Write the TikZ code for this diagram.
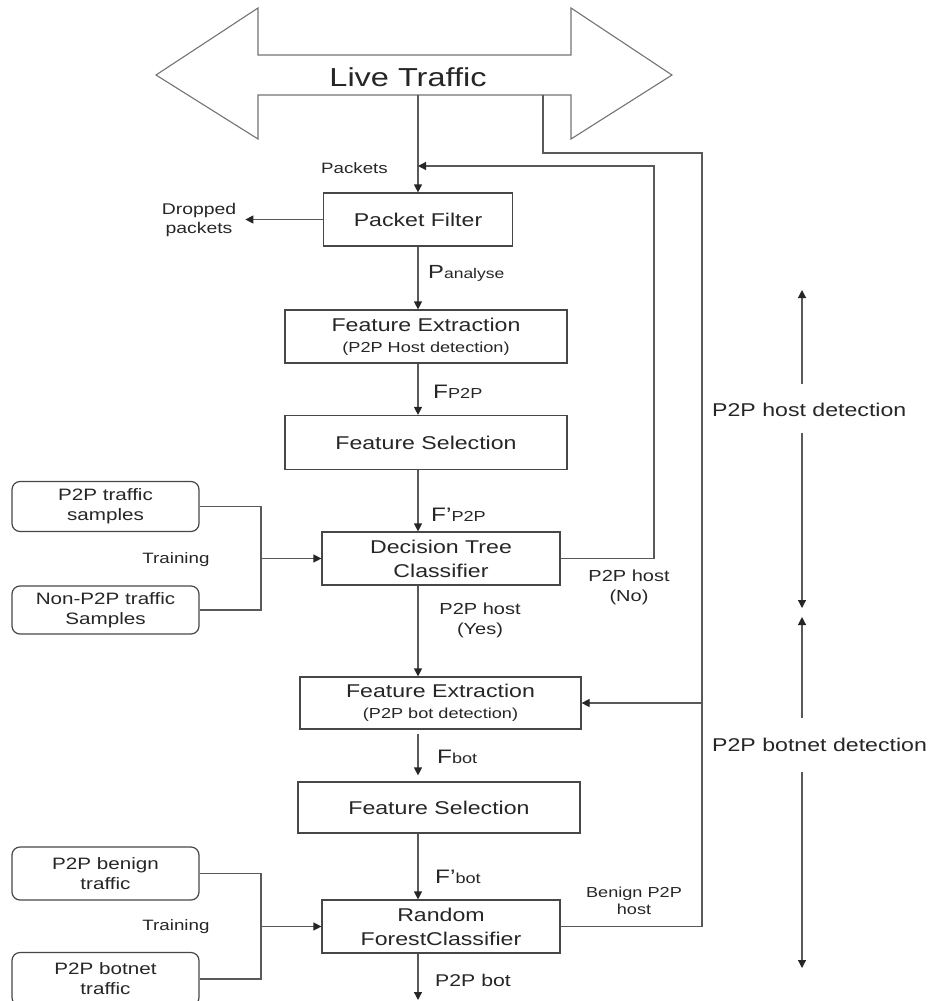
\documentclass[tikz,border=0pt]{standalone}
\usepackage{fontspec}
\setmainfont[FakeStretch=1.25]{Liberation Sans}
\usetikzlibrary{arrows.meta,calc}
\newcommand{\fsz}[2]{\fontsize{#1}{#2}\selectfont}
\begin{document}
\begin{tikzpicture}[x=1pt,y=-1pt,
  line/.style={draw=black!65, line width=1.2pt},
  arr/.style={line, -{Triangle[length=8pt,width=8pt,color=black!85]}},
  outline/.style={draw=black!55, line width=1.1pt},
  box/.style={draw=black!72, line width=1.2pt, fill=white, align=center,
    text=black!85, font=\fsz{18.5}{24}, inner sep=0pt},
  sample/.style={box, rounded corners=8pt, font=\fsz{16.5}{20},
    minimum width=187pt},
  lbl/.style={text=black!85, font=\fsz{15}{18}, inner sep=0pt, align=center},
  big/.style={text=black!85, inner sep=0pt}
]
\useasboundingbox (0,0) rectangle (932,1001);
\clip (0,0) rectangle (932,1001);

% Live traffic double arrow
\draw[outline] (156,75) -- (258,8) -- (258,55) -- (571,55) -- (571,8) -- (672,75)
  -- (571,139) -- (571,95) -- (258,95) -- (258,139) -- cycle;
\node[big, font=\fsz{26}{30}] (lt) at (408,77) {Live Traffic};
\coordinate (tapA) at (418,95);
\coordinate (tapB) at (543,95);

% boxes
\node[box, minimum width=189pt, minimum height=53pt] (pf) at (418,219.5) {Packet Filter};
\node[box, minimum width=282pt, minimum height=53pt] (fe1) at (426,336.5)
  {Feature Extraction\\[-3pt]{\fsz{14.5}{18}(P2P Host detection)}};
\node[box, minimum width=282pt, minimum height=54pt] (fs1) at (426,442.5) {Feature Selection};
\node[box, minimum width=238pt, minimum height=53pt] (dt) at (441,558.5) {Decision Tree\\Classifier};
\node[box, minimum width=281pt, minimum height=52pt] (fe2) at (440.5,703)
  {Feature Extraction\\[-3pt]{\fsz{14.5}{18}(P2P bot detection)}};
\node[box, minimum width=282pt, minimum height=51pt] (fs2) at (439,807.5) {Feature Selection};
\node[box, minimum width=238pt, minimum height=53pt] (rf) at (441,926.5) {Random\\ForestClassifier};

\node[sample, minimum height=50pt] (s1) at (105.5,506.5) {P2P traffic\\samples};
\node[sample, minimum height=48pt] (s2) at (105.5,610) {Non-P2P traffic\\Samples};
\node[sample, minimum height=53pt] (s3) at (105.5,873.5) {P2P benign\\traffic};
\node[sample, minimum height=53pt] (s4) at (105.5,979) {P2P botnet\\traffic};

% labels
\node[lbl, anchor=east] (lpk) at (388,168) {Packets};
\node[lbl, font=\fsz{15.5}{19}] (dp) at (199,220) {Dropped\\packets};
\node[big, anchor=west] (lpa) at (428,273) {\fsz{19}{19}P\fsz{14}{14}analyse};
\node[big, anchor=west] (lfp) at (433,392) {\fsz{19.5}{19}F\fsz{14.5}{14}P2P};
\node[big, anchor=west] (lfpp) at (431,515) {\fsz{19.5}{19}F'\fsz{14.5}{14}P2P};
\node[big, anchor=west] (lfb) at (437,757) {\fsz{19.5}{19}F\fsz{14.5}{14}bot};
\node[big, anchor=west] (lfbb) at (435,877) {\fsz{19.5}{19}F'\fsz{14.5}{14}bot};
\node[lbl, font=\fsz{16}{20}] (lyes) at (480,620) {P2P host\\(Yes)};
\node[lbl, font=\fsz{16}{20}] (lno) at (629,587) {P2P host\\(No)};
\node[lbl, font=\fsz{14.5}{17}] (lben) at (634,901) {Benign P2P\\host};
\node[big, anchor=west, font=\fsz{17}{20}] (lbot) at (435,980) {P2P bot};
\node[lbl] (tr1) at (176,560) {Training};
\node[lbl] (tr2) at (176,927) {Training};
\node[big, anchor=west, font=\fsz{18.5}{22}] (hd) at (712,410) {P2P host detection};
\node[big, anchor=west, font=\fsz{18.5}{22}] (bd) at (712,745) {P2P botnet detection};

% main spine
\draw[arr] (tapA) -- (pf.north);
\draw[arr] (pf.south) -- (pf.south |- fe1.north);
\draw[arr] (fe1.south -| pf) -- (fs1.north -| pf);
\draw[arr] (fs1.south -| pf) -- (dt.north -| pf);
\draw[arr] (dt.south -| pf) -- (fe2.north -| pf);
\draw[arr, shorten <=4pt, shorten >=6pt] (fe2.south -| pf) -- (fs2.north -| pf);
\draw[arr] (fs2.south -| pf) -- (rf.north -| pf);
\coordinate (out) at (418,1000);
\draw[arr] (rf.south -| pf) -- (out);

% dropped packets
\draw[arr, shorten >=9pt] (pf.west) -- (pf.west -| dp.east);

% feedback (P2P host No)
\coordinate (fbx) at (654,166);
\draw[arr] (dt.east) -- (dt.east -| fbx) -- (fbx) -- (fbx -| pf);

% bus from live traffic
\coordinate (busTop) at (702,153);
\draw[line] (tapB) -- (tapB |- busTop) -- (busTop) -- (busTop |- rf.east) -- (rf.east);
\draw[arr] (busTop |- fe2.east) -- (fe2.east);

% training brackets
\coordinate (tj1) at (261,559);
\draw[line] (s1.east) -- (s1.east -| tj1) -- (s2.east -| tj1) -- (s2.east);
\draw[arr] (tj1 |- dt.west) -- (dt.west);
\coordinate (tj2) at (261,925);
\draw[line] (s3.east) -- (s3.east -| tj2) -- (s4.east -| tj2) -- (s4.east);
\draw[arr] (tj2 |- rf.west) -- (rf.west);

% phase arrows
\coordinate (va) at (802,290);
\coordinate (g1) at (802,384);
\coordinate (g2) at (802,433);
\coordinate (vb) at (802,608);
\coordinate (vc) at (802,617);
\coordinate (g3) at (802,718);
\coordinate (g4) at (802,772);
\coordinate (vd) at (802,968);
\draw[arr] (g1) -- (va);
\draw[arr] (g2) -- (vb);
\draw[arr] (g3) -- (vc);
\draw[arr] (g4) -- (vd);
\end{tikzpicture}
\end{document}
